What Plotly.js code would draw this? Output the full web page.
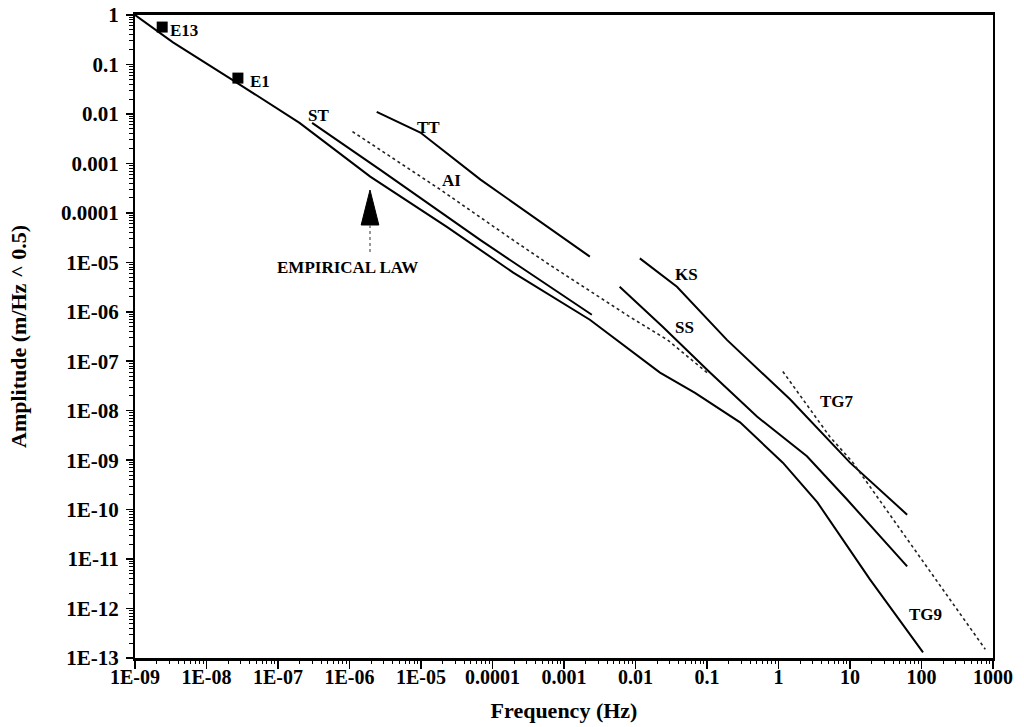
<!DOCTYPE html>
<html>
<head>
<meta charset="utf-8">
<script src="https://cdn.plot.ly/plotly-3.0.1.min.js"></script>
<style>html,body{margin:0;padding:0;background:#fff;}#chart{width:1024px;height:727px;}</style>
</head>
<body>
<div id="chart"></div>
<script>
// ---- Data ----
const empiricalFreq = [1e-9, 3.4e-9, 2.3e-8, 2.0e-7, 1.95e-6, 2.3e-5, 1.95e-4, 2.3e-3, 0.022, 0.068, 0.29, 1.15, 3.5, 19, 105];
const empiricalAmp  = [1, 0.28, 0.049, 6.6e-3, 5.4e-4, 5.2e-5, 6.2e-6, 6.9e-7, 5.9e-8, 2.3e-8, 5.8e-9, 8.9e-10, 1.4e-10, 3.9e-12, 1.3e-13];

const stFreq = [3.0e-7, 2.7e-6, 6.8e-5, 2.45e-3];
const stAmp  = [6.6e-3, 7.4e-4, 2.8e-5, 8.7e-7];

const ttFreq = [2.4e-6, 9.8e-6, 6.8e-5, 5.8e-4, 2.3e-3];
const ttAmp  = [0.011, 4.2e-3, 4.7e-4, 5.2e-5, 1.3e-5];

const aiFreq = [1.1e-6, 1.9e-5, 1.95e-4, 6.3e-4, 8.3e-3, 0.028, 0.1];
const aiAmp  = [4.4e-3, 2.9e-4, 2.8e-5, 8.9e-6, 7.9e-7, 2.7e-7, 5.9e-8];

const ksFreq = [0.0115, 0.038, 0.19, 1.45, 10, 63];
const ksAmp  = [1.2e-5, 3.2e-6, 2.7e-7, 1.7e-8, 8.9e-10, 7.9e-11];

const ssFreq = [6.0e-3, 0.024, 0.11, 0.50, 2.5, 9.1, 63];
const ssAmp  = [3.2e-6, 5.0e-7, 5.9e-8, 7.6e-9, 1.2e-9, 1.6e-10, 7.1e-12];

const tg7Freq = [1.15, 5.2, 11, 63, 250, 780];
const tg7Amp  = [6.2e-8, 3.0e-9, 8.9e-10, 2.5e-11, 1.5e-12, 1.5e-13];

const pointNames = ["E13", "E1"];
const pointFreq  = [2.4e-9, 2.75e-8];
const pointAmp   = [0.57, 0.053];

const xTickVals = [1e-9, 1e-8, 1e-7, 1e-6, 1e-5, 1e-4, 1e-3, 0.01, 0.1, 1, 10, 100, 1000];
const xTickText = ["1E-09", "1E-08", "1E-07", "1E-06", "1E-05", "0.0001", "0.001", "0.01", "0.1", "1", "10", "100", "1000"];
const yTickVals = [1, 0.1, 0.01, 1e-3, 1e-4, 1e-5, 1e-6, 1e-7, 1e-8, 1e-9, 1e-10, 1e-11, 1e-12, 1e-13];
const yTickText = ["1", "0.1", "0.01", "0.001", "0.0001", "1E-05", "1E-06", "1E-07", "1E-08", "1E-09", "1E-10", "1E-11", "1E-12", "1E-13"];

// ---- Chart ----
const serif = "Liberation Serif, Times New Roman, serif";
function solid(x, y, name) {
  return {x: x, y: y, name: name, type: 'scatter', mode: 'lines',
          line: {color: '#000', width: 2}, hoverinfo: 'x+y+name'};
}
function dotted(x, y, name) {
  return {x: x, y: y, name: name, type: 'scatter', mode: 'lines',
          line: {color: '#222', width: 1.6, dash: 'dot'}, hoverinfo: 'x+y+name'};
}
const traces = [
  // invisible helper so the minor-tick overlay axes get drawn
  {x: pointFreq, y: pointAmp, xaxis: 'x2', yaxis: 'y2', type: 'scatter', mode: 'markers',
   marker: {opacity: 0}, hoverinfo: 'skip', showlegend: false},
  solid(empiricalFreq, empiricalAmp, 'Empirical law'),
  solid(stFreq, stAmp, 'ST'),
  solid(ttFreq, ttAmp, 'TT'),
  dotted(aiFreq, aiAmp, 'AI'),
  solid(ksFreq, ksAmp, 'KS'),
  solid(ssFreq, ssAmp, 'SS'),
  dotted(tg7Freq, tg7Amp, 'TG7'),
  {x: pointFreq, y: pointAmp, text: pointNames, type: 'scatter', mode: 'markers',
   marker: {symbol: 'square', size: 11, color: '#000'}, name: 'Points'}
];

const lf = {family: serif, size: 17, color: '#000', weight: 'bold'};
function lab(text, lx, ly, anchor) {
  return {text: text, x: lx, y: ly, xref: 'x', yref: 'y', showarrow: false,
          xanchor: anchor || 'center', yanchor: 'middle', font: lf};
}
const annotations = [
  lab('E13', -8.54, -0.32, 'left'),
  lab('E1', -7.42, -1.35, 'left'),
  lab('ST', -6.44, -2.04),
  lab('TT', -4.90, -2.28),
  lab('AI', -4.57, -3.35),
  lab('KS', -1.29, -5.25),
  lab('SS', -1.32, -6.32),
  lab('TG7', 0.82, -7.82),
  lab('TG9', 2.05, -12.12),
  lab('EMPIRICAL LAW', -6.03, -5.11)
];

const shapes = [
  // arrow head (filled triangle) and stem for EMPIRICAL LAW
  {type: 'path', xref: 'paper', yref: 'paper',
   path: 'M 0.2739 0.7278 L 0.2636 0.6734 L 0.2842 0.6734 Z',
   fillcolor: '#000', line: {color: '#000', width: 1}},
  {type: 'line', xref: 'paper', yref: 'paper', x0: 0.2739, x1: 0.2739, y0: 0.6734, y1: 0.6283,
   line: {color: '#555', width: 1.2, dash: 'dot'}}
];

const tf = {family: serif, size: 22, color: '#000', weight: 'bold'};
const layout = {
  width: 1024, height: 727,
  margin: {l: 135, r: 31, t: 15, b: 69},
  paper_bgcolor: '#fff', plot_bgcolor: '#fff',
  showlegend: false,
  font: {family: serif, color: '#000'},
  xaxis: {
    type: 'log', range: [-9, 3], autorange: false,
    tickmode: 'array', tickvals: xTickVals, ticktext: xTickText,
    ticks: 'outside', ticklen: 8, tickwidth: 1.5, tickcolor: '#000',
    ticklabelstandoff: -9,
    showgrid: false, zeroline: false,
    showline: true, linecolor: '#000', linewidth: 3, mirror: true,
    tickfont: {family: serif, size: 20, color: '#000', weight: 'bold'},
    title: {text: 'Frequency (Hz)', font: tf, standoff: 16},
    automargin: false
  },
  yaxis: {
    type: 'log', range: [-13, 0], autorange: false,
    tickmode: 'array', tickvals: yTickVals, ticktext: yTickText,
    ticks: 'outside', ticklen: 7, tickwidth: 1.5, tickcolor: '#000',
    ticklabelstandoff: 3,
    showgrid: false, zeroline: false,
    showline: true, linecolor: '#000', linewidth: 2, mirror: true,
    tickfont: {family: serif, size: 21, color: '#000', weight: 'bold'},
    title: {text: 'Amplitude (m/Hz ^ 0.5)', font: tf, standoff: 28},
    automargin: false
  },
  xaxis2: {
    type: 'log', range: [-9, 3], autorange: false, overlaying: 'x', anchor: 'y', side: 'bottom',
    dtick: 'D1', ticks: 'outside', ticklen: 5, tickwidth: 1, tickcolor: '#000',
    showticklabels: false, showgrid: false, zeroline: false, showline: false, automargin: false
  },
  yaxis2: {
    type: 'log', range: [-13, 0], autorange: false, overlaying: 'y', anchor: 'x', side: 'left',
    dtick: 'D1', ticks: 'outside', ticklen: 5, tickwidth: 1, tickcolor: '#000',
    showticklabels: false, showgrid: false, zeroline: false, showline: false, automargin: false
  },
  annotations: annotations,
  shapes: shapes
};

Plotly.newPlot('chart', traces, layout, {displayModeBar: false, staticPlot: true});
</script>
</body>
</html>
